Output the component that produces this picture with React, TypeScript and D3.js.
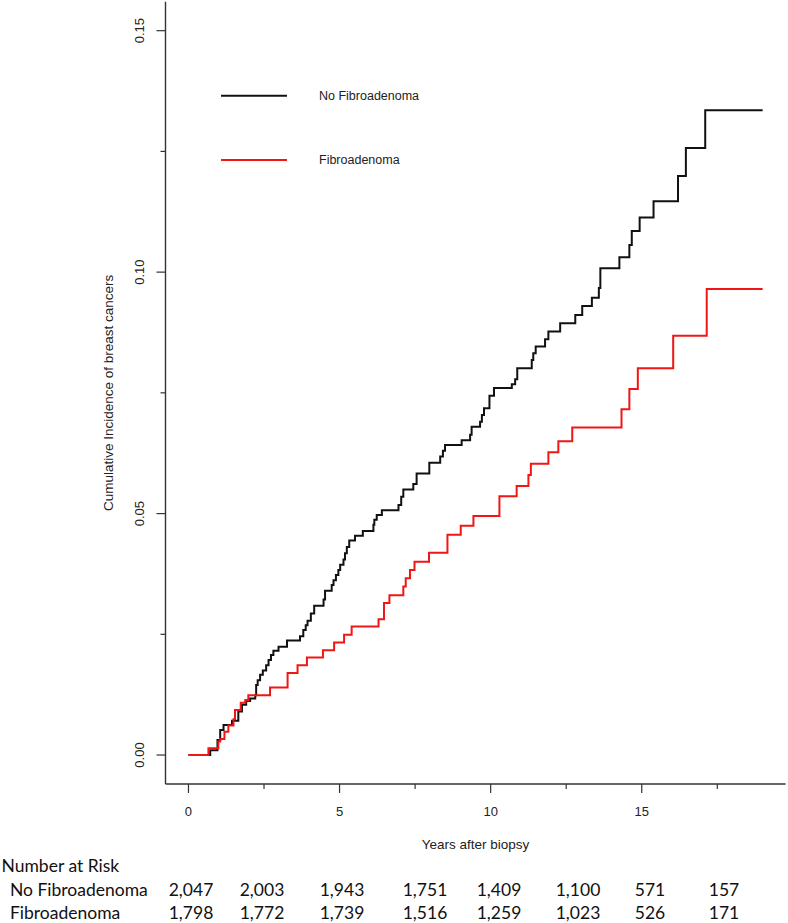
import React from "react";
import * as d3 from "d3";

// ---- data ----
const noFaTimes = [0, 0.72, 0.96, 1.05, 1.16, 1.44, 1.65, 1.77, 1.91, 2.04, 2.21, 2.24, 2.29, 2.37, 2.46, 2.57, 2.65, 2.73, 2.81, 2.98, 3.26, 3.69, 3.8, 3.88, 3.94, 4.05, 4.16, 4.47, 4.52, 4.74, 4.8, 4.88, 4.96, 5.02, 5.13, 5.18, 5.24, 5.32, 5.51, 5.77, 6.12, 6.15, 6.23, 6.4, 6.95, 7.04, 7.11, 7.44, 7.55, 7.97, 8.33, 8.42, 8.49, 9.04, 9.32, 9.37, 9.65, 9.71, 9.78, 9.96, 10.11, 10.7, 10.81, 10.88, 11.36, 11.41, 11.49, 11.8, 11.91, 12.3, 12.8, 13.03, 13.35, 13.58, 13.63, 14.26, 14.59, 14.67, 14.93, 15.39, 16.2, 16.46, 17.1, 19.0];
const noFaValues = [0, 0.001, 0.0031, 0.0052, 0.0062, 0.0071, 0.009, 0.0104, 0.0112, 0.0117, 0.0124, 0.0145, 0.0155, 0.0166, 0.0175, 0.0186, 0.0197, 0.0207, 0.0216, 0.0224, 0.0237, 0.0246, 0.0259, 0.0269, 0.0278, 0.0293, 0.0309, 0.0322, 0.034, 0.0352, 0.0362, 0.0373, 0.0383, 0.0394, 0.0405, 0.0418, 0.0431, 0.0444, 0.0454, 0.0464, 0.0477, 0.0487, 0.0497, 0.0507, 0.0518, 0.0535, 0.055, 0.0561, 0.0583, 0.0605, 0.0618, 0.063, 0.0642, 0.0652, 0.0663, 0.068, 0.069, 0.0704, 0.0718, 0.0744, 0.076, 0.0768, 0.0778, 0.0801, 0.0818, 0.0832, 0.0846, 0.0861, 0.0877, 0.0894, 0.0911, 0.093, 0.0947, 0.0967, 0.1008, 0.1031, 0.1056, 0.1085, 0.1113, 0.1147, 0.1199, 0.1257, 0.1335, 0.1335];

const faTimes = [0, 0.66, 0.99, 1.05, 1.19, 1.32, 1.49, 1.54, 1.73, 1.88, 1.98, 2.7, 3.28, 3.61, 3.92, 4.45, 4.82, 5.15, 5.4, 6.29, 6.47, 6.65, 7.11, 7.19, 7.33, 7.48, 7.96, 8.57, 9.01, 9.43, 10.29, 10.86, 11.25, 11.33, 11.91, 12.24, 12.7, 14.33, 14.59, 14.87, 16.04, 17.15, 19.0];
const faValues = [0, 0.0014, 0.0028, 0.0033, 0.0048, 0.0061, 0.0074, 0.0093, 0.0108, 0.0114, 0.0124, 0.014, 0.017, 0.0186, 0.0202, 0.0217, 0.0233, 0.0249, 0.0266, 0.0281, 0.0315, 0.0331, 0.0349, 0.0366, 0.0383, 0.04, 0.0419, 0.0456, 0.0475, 0.0495, 0.0536, 0.0557, 0.058, 0.0603, 0.0627, 0.065, 0.0678, 0.0716, 0.0758, 0.0801, 0.0868, 0.0965, 0.0965];

const seriesNames = ["No Fibroadenoma", "Fibroadenoma"];
const seriesColors = ["#111111", "#f01616"];

const xTicks = [0, 2.5, 5, 7.5, 10, 12.5, 15, 17.5];
const xTickLabels = ["0", "", "5", "", "10", "", "15", ""];
const yTicks = [0, 0.025, 0.05, 0.075, 0.1, 0.125, 0.15];
const yTickLabels = ["0.00", "", "0.05", "", "0.10", "", "0.15"];

const riskTitle = "Number at Risk";
const riskNoFa = ["2,047", "2,003", "1,943", "1,751", "1,409", "1,100", "571", "157"];
const riskFa = ["1,798", "1,772", "1,739", "1,516", "1,259", "1,023", "526", "171"];

const xTitle = "Years after biopsy";
const yTitle = "Cumulative Incidence of breast cancers";

// ---- layout ----
const W = 788;
const H = 923;
const axisFont = "Liberation Sans, Arial, sans-serif";
const tableFont = "Lato, 'Open Sans', sans-serif";
const riskColCenters = [191, 262, 342, 425, 499, 578, 650, 724];

export default function App() {
  const x = d3.scaleLinear().domain([-0.76, 19.76]).range([165.5, 785.6]);
  const y = d3.scaleLinear().domain([-0.006, 0.156]).range([784, 1.7]);
  const line = d3
    .line<[number, number]>()
    .x((d) => x(d[0]))
    .y((d) => y(d[1]))
    .curve(d3.curveStepAfter);

  const noFa: [number, number][] = noFaTimes.map((t, i) => [t, noFaValues[i]]);
  const fa: [number, number][] = faTimes.map((t, i) => [t, faValues[i]]);

  const axisColor = "#333";
  const x0 = x.range()[0];
  const yb = y.range()[0];

  return (
    <svg
      width={W}
      height={H}
      style={{ position: "absolute", left: 0, top: 0, background: "#fff" }}
    >
      <rect x={0} y={0} width={W} height={H} fill="#fff" />
      {/* axes lines */}
      <line x1={x0} x2={x0} y1={y.range()[1]} y2={yb} stroke={axisColor} strokeWidth={1.4} />
      <line x1={x0} x2={x.range()[1]} y1={yb} y2={yb} stroke={axisColor} strokeWidth={1.4} />
      {/* x ticks */}
      {xTicks.map((t, i) => (
        <g key={"xt" + i}>
          <line
            x1={x(t)}
            x2={x(t)}
            y1={yb}
            y2={yb + (xTickLabels[i] ? 9 : 5)}
            stroke={axisColor}
            strokeWidth={1.2}
          />
          {xTickLabels[i] && (
            <text
              x={x(t)}
              y={811}
              dy="0.35em"
              textAnchor="middle"
              fontFamily={axisFont}
              fontSize={13}
              fill="#222"
            >
              {xTickLabels[i]}
            </text>
          )}
        </g>
      ))}
      {/* y ticks */}
      {yTicks.map((v, i) => (
        <g key={"yt" + i}>
          <line
            x1={x0 - (yTickLabels[i] ? 9 : 5)}
            x2={x0}
            y1={y(v)}
            y2={y(v)}
            stroke={axisColor}
            strokeWidth={1.2}
          />
          {yTickLabels[i] && (
            <text
              transform={`translate(139,${y(v)}) rotate(-90)`}
              dy="0.35em"
              textAnchor="middle"
              fontFamily={axisFont}
              fontSize={13}
              fill="#222"
            >
              {yTickLabels[i]}
            </text>
          )}
        </g>
      ))}
      {/* axis titles */}
      <text
        x={(x.range()[0] + x.range()[1]) / 2}
        y={844}
        dy="0.35em"
        textAnchor="middle"
        fontFamily={axisFont}
        fontSize={13.5}
        fill="#222"
      >
        {xTitle}
      </text>
      <text
        transform={`translate(108,${(y.range()[0] + y.range()[1]) / 2}) rotate(-90)`}
        dy="0.35em"
        textAnchor="middle"
        fontFamily={axisFont}
        fontSize={13.5}
        fill="#222"
      >
        {yTitle}
      </text>
      {/* curves */}
      <path d={line(noFa) || ""} fill="none" stroke={seriesColors[0]} strokeWidth={2} />
      <path d={line(fa) || ""} fill="none" stroke={seriesColors[1]} strokeWidth={2} />
      {/* legend */}
      {seriesNames.map((name, i) => (
        <g key={"lg" + i}>
          <line x1={221} x2={287} y1={95.7 + i * 64.3} y2={95.7 + i * 64.3} stroke={seriesColors[i]} strokeWidth={2} />
          <text
            x={319}
            y={95.7 + i * 64.3}
            dy="0.35em"
            fontFamily={axisFont}
            fontSize={12.5}
            fill="#222"
          >
            {name}
          </text>
        </g>
      ))}
      {/* number at risk table */}
      <text x={1.5} y={866} dy="0.35em" fontFamily={tableFont} fontSize={17.5} fill="#111">
        {riskTitle}
      </text>
      {[riskNoFa, riskFa].map((row, r) => (
        <g key={"row" + r}>
          <text x={10} y={890 + r * 23} dy="0.35em" fontFamily={tableFont} fontSize={17.5} fill="#111">
            {seriesNames[r]}
          </text>
          {row.map((v, c) => (
            <text
              key={c}
              x={riskColCenters[c]}
              y={890 + r * 23}
              dy="0.35em"
              textAnchor="middle"
              fontFamily={tableFont}
              fontSize={17.5}
              fill="#111"
            >
              {v}
            </text>
          ))}
        </g>
      ))}
    </svg>
  );
}
